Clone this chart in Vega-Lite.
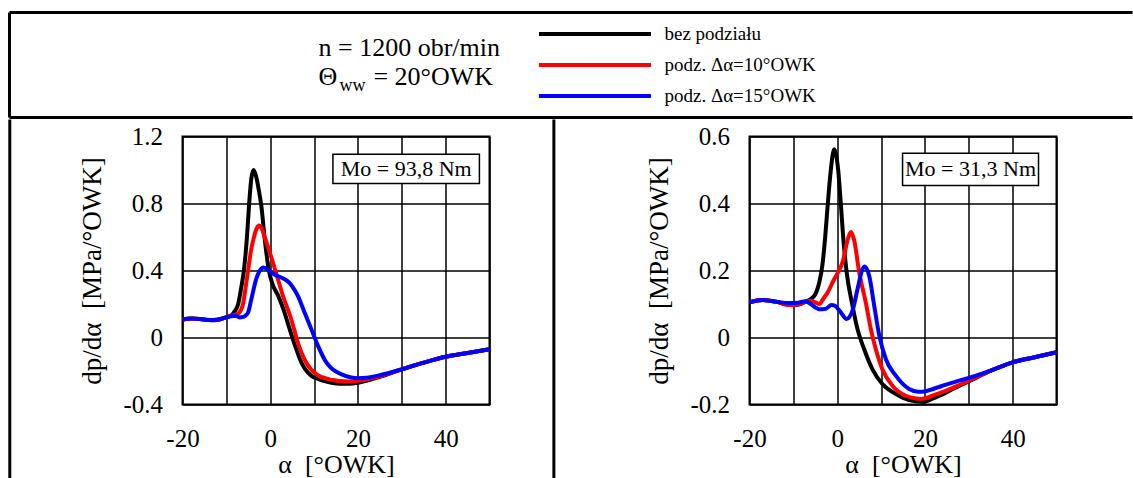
{
  "$schema": "https://vega.github.io/schema/vega-lite/v6.json",
  "padding": {"left": 6.5, "top": 10.5, "right": 0, "bottom": 0},
  "spacing": -3,
  "background": "white",
  "config": {
    "font": "Liberation Serif",
    "view": {"stroke": null},
    "axis": {
      "labelFont": "Liberation Serif", "labelFontSize": 25, "labelColor": "black",
      "titleFont": "Liberation Serif", "titleFontSize": 26, "titleFontWeight": "normal", "titleColor": "black",
      "grid": true, "gridColor": "black", "gridOpacity": 1, "gridWidth": 1.5,
      "domain": false, "ticks": false, "labelFlush": false, "labelOverlap": false
    },
    "axisX": {"labelPadding": 22, "titlePadding": 0},
    "axisY": {"labelPadding": 20, "titlePadding": 16, "titleFontSize": 27},
    "legend": {
      "labelFont": "Liberation Serif", "labelFontSize": 19, "labelColor": "black",
      "symbolStrokeWidth": 4, "rowPadding": 11, "padding": 0, "offset": 0
    }
  },
  "datasets": {
    "one": [{}],
    "p1": [
      {"s": "bez podziału", "a": -20, "v": 0.108}, {"s": "bez podziału", "a": -18, "v": 0.113}, {"s": "bez podziału", "a": -16, "v": 0.11}, {"s": "bez podziału", "a": -14, "v": 0.104}, {"s": "bez podziału", "a": -13, "v": 0.103}, {"s": "bez podziału", "a": -12, "v": 0.106}, {"s": "bez podziału", "a": -10, "v": 0.122}, {"s": "bez podziału", "a": -9, "v": 0.13}, {"s": "bez podziału", "a": -8.3, "v": 0.149}, {"s": "bez podziału", "a": -7.3, "v": 0.2}, {"s": "bez podziału", "a": -6.6, "v": 0.3}, {"s": "bez podziału", "a": -6, "v": 0.4}, {"s": "bez podziału", "a": -5.3, "v": 0.6}, {"s": "bez podziału", "a": -4.8, "v": 0.8}, {"s": "bez podziału", "a": -4.3, "v": 0.95}, {"s": "bez podziału", "a": -3.8, "v": 1.0}, {"s": "bez podziału", "a": -3.2, "v": 0.96}, {"s": "bez podziału", "a": -2.6, "v": 0.88}, {"s": "bez podziału", "a": -2, "v": 0.78}, {"s": "bez podziału", "a": -1.3, "v": 0.6}, {"s": "bez podziału", "a": -0.3, "v": 0.4}, {"s": "bez podziału", "a": 0.5, "v": 0.32}, {"s": "bez podziału", "a": 1.8, "v": 0.25}, {"s": "bez podziału", "a": 3, "v": 0.17}, {"s": "bez podziału", "a": 4.2, "v": 0.07}, {"s": "bez podziału", "a": 5.6, "v": -0.044}, {"s": "bez podziału", "a": 7.1, "v": -0.149}, {"s": "bez podziału", "a": 8, "v": -0.19}, {"s": "bez podziału", "a": 9.4, "v": -0.229}, {"s": "bez podziału", "a": 11, "v": -0.248}, {"s": "bez podziału", "a": 12.4, "v": -0.26}, {"s": "bez podziału", "a": 14, "v": -0.27}, {"s": "bez podziału", "a": 16, "v": -0.276}, {"s": "bez podziału", "a": 18, "v": -0.276}, {"s": "bez podziału", "a": 20, "v": -0.27}, {"s": "bez podziału", "a": 22, "v": -0.258}, {"s": "bez podziału", "a": 25, "v": -0.235}, {"s": "bez podziału", "a": 30, "v": -0.19}, {"s": "bez podziału", "a": 35, "v": -0.15}, {"s": "bez podziału", "a": 40, "v": -0.115}, {"s": "bez podziału", "a": 45, "v": -0.093}, {"s": "bez podziału", "a": 50, "v": -0.07},
      {"s": "podz. Δα=10°OWK", "a": -20, "v": 0.108}, {"s": "podz. Δα=10°OWK", "a": -18, "v": 0.113}, {"s": "podz. Δα=10°OWK", "a": -16, "v": 0.11}, {"s": "podz. Δα=10°OWK", "a": -14, "v": 0.104}, {"s": "podz. Δα=10°OWK", "a": -12, "v": 0.106}, {"s": "podz. Δα=10°OWK", "a": -10, "v": 0.122}, {"s": "podz. Δα=10°OWK", "a": -9, "v": 0.13}, {"s": "podz. Δα=10°OWK", "a": -8, "v": 0.135}, {"s": "podz. Δα=10°OWK", "a": -7.2, "v": 0.145}, {"s": "podz. Δα=10°OWK", "a": -6.2, "v": 0.2}, {"s": "podz. Δα=10°OWK", "a": -5.6, "v": 0.3}, {"s": "podz. Δα=10°OWK", "a": -5.05, "v": 0.4}, {"s": "podz. Δα=10°OWK", "a": -4.3, "v": 0.53}, {"s": "podz. Δα=10°OWK", "a": -3.7, "v": 0.6}, {"s": "podz. Δα=10°OWK", "a": -3.1, "v": 0.65}, {"s": "podz. Δα=10°OWK", "a": -2.5, "v": 0.668}, {"s": "podz. Δα=10°OWK", "a": -2, "v": 0.655}, {"s": "podz. Δα=10°OWK", "a": -1.27, "v": 0.6}, {"s": "podz. Δα=10°OWK", "a": 0, "v": 0.5}, {"s": "podz. Δα=10°OWK", "a": 1.17, "v": 0.4}, {"s": "podz. Δα=10°OWK", "a": 2.9, "v": 0.249}, {"s": "podz. Δα=10°OWK", "a": 4.8, "v": 0.109}, {"s": "podz. Δα=10°OWK", "a": 6.3, "v": -0.03}, {"s": "podz. Δα=10°OWK", "a": 8.2, "v": -0.149}, {"s": "podz. Δα=10°OWK", "a": 10.5, "v": -0.219}, {"s": "podz. Δα=10°OWK", "a": 13.9, "v": -0.252}, {"s": "podz. Δα=10°OWK", "a": 17.7, "v": -0.263}, {"s": "podz. Δα=10°OWK", "a": 20, "v": -0.259}, {"s": "podz. Δα=10°OWK", "a": 22, "v": -0.25}, {"s": "podz. Δα=10°OWK", "a": 25, "v": -0.232}, {"s": "podz. Δα=10°OWK", "a": 30, "v": -0.189}, {"s": "podz. Δα=10°OWK", "a": 35, "v": -0.15}, {"s": "podz. Δα=10°OWK", "a": 40, "v": -0.115}, {"s": "podz. Δα=10°OWK", "a": 45, "v": -0.093}, {"s": "podz. Δα=10°OWK", "a": 50, "v": -0.07},
      {"s": "podz. Δα=15°OWK", "a": -20, "v": 0.108}, {"s": "podz. Δα=15°OWK", "a": -18, "v": 0.113}, {"s": "podz. Δα=15°OWK", "a": -16, "v": 0.11}, {"s": "podz. Δα=15°OWK", "a": -14, "v": 0.104}, {"s": "podz. Δα=15°OWK", "a": -12, "v": 0.106}, {"s": "podz. Δα=15°OWK", "a": -10, "v": 0.12}, {"s": "podz. Δα=15°OWK", "a": -8.5, "v": 0.128}, {"s": "podz. Δα=15°OWK", "a": -7.8, "v": 0.129}, {"s": "podz. Δα=15°OWK", "a": -7, "v": 0.12}, {"s": "podz. Δα=15°OWK", "a": -6.2, "v": 0.123}, {"s": "podz. Δα=15°OWK", "a": -5.6, "v": 0.132}, {"s": "podz. Δα=15°OWK", "a": -5.05, "v": 0.149}, {"s": "podz. Δα=15°OWK", "a": -4.3, "v": 0.229}, {"s": "podz. Δα=15°OWK", "a": -3.2, "v": 0.348}, {"s": "podz. Δα=15°OWK", "a": -2.4, "v": 0.398}, {"s": "podz. Δα=15°OWK", "a": -1.5, "v": 0.418}, {"s": "podz. Δα=15°OWK", "a": -0.6, "v": 0.405}, {"s": "podz. Δα=15°OWK", "a": 0.26, "v": 0.388}, {"s": "podz. Δα=15°OWK", "a": 1.3, "v": 0.372}, {"s": "podz. Δα=15°OWK", "a": 2.5, "v": 0.358}, {"s": "podz. Δα=15°OWK", "a": 3.5, "v": 0.345}, {"s": "podz. Δα=15°OWK", "a": 4.4, "v": 0.326}, {"s": "podz. Δα=15°OWK", "a": 5.4, "v": 0.29}, {"s": "podz. Δα=15°OWK", "a": 6.3, "v": 0.249}, {"s": "podz. Δα=15°OWK", "a": 7.84, "v": 0.149}, {"s": "podz. Δα=15°OWK", "a": 9.37, "v": 0.05}, {"s": "podz. Δα=15°OWK", "a": 10.9, "v": -0.05}, {"s": "podz. Δα=15°OWK", "a": 12.8, "v": -0.149}, {"s": "podz. Δα=15°OWK", "a": 14, "v": -0.185}, {"s": "podz. Δα=15°OWK", "a": 15.4, "v": -0.209}, {"s": "podz. Δα=15°OWK", "a": 17, "v": -0.228}, {"s": "podz. Δα=15°OWK", "a": 18.5, "v": -0.239}, {"s": "podz. Δα=15°OWK", "a": 20, "v": -0.243}, {"s": "podz. Δα=15°OWK", "a": 22, "v": -0.24}, {"s": "podz. Δα=15°OWK", "a": 25, "v": -0.225}, {"s": "podz. Δα=15°OWK", "a": 30, "v": -0.19}, {"s": "podz. Δα=15°OWK", "a": 35, "v": -0.15}, {"s": "podz. Δα=15°OWK", "a": 40, "v": -0.115}, {"s": "podz. Δα=15°OWK", "a": 45, "v": -0.093}, {"s": "podz. Δα=15°OWK", "a": 50, "v": -0.07}
    ],
    "p2": [
      {"s": "bez podziału", "a": -20, "v": 0.105}, {"s": "bez podziału", "a": -17, "v": 0.112}, {"s": "bez podziału", "a": -14, "v": 0.107}, {"s": "bez podziału", "a": -11, "v": 0.097}, {"s": "bez podziału", "a": -9, "v": 0.098}, {"s": "bez podziału", "a": -7.2, "v": 0.107}, {"s": "bez podziału", "a": -5.25, "v": 0.124}, {"s": "bez podziału", "a": -4.1, "v": 0.164}, {"s": "bez podziału", "a": -3.4, "v": 0.214}, {"s": "bez podziału", "a": -2.74, "v": 0.3}, {"s": "bez podziału", "a": -2.14, "v": 0.4}, {"s": "bez podziału", "a": -1.46, "v": 0.5}, {"s": "bez podziału", "a": -1.0, "v": 0.548}, {"s": "bez podziału", "a": -0.7, "v": 0.562}, {"s": "bez podziału", "a": -0.3, "v": 0.548}, {"s": "bez podziału", "a": 0.22, "v": 0.5}, {"s": "bez podziału", "a": 0.82, "v": 0.4}, {"s": "bez podziału", "a": 1.36, "v": 0.3}, {"s": "bez podziału", "a": 2.1, "v": 0.2}, {"s": "bez podziału", "a": 3.48, "v": 0.095}, {"s": "bez podziału", "a": 4.62, "v": 0.025}, {"s": "bez podziału", "a": 6.15, "v": -0.035}, {"s": "bez podziału", "a": 8.04, "v": -0.095}, {"s": "bez podziału", "a": 10.3, "v": -0.139}, {"s": "bez podziału", "a": 13.4, "v": -0.169}, {"s": "bez podziału", "a": 16.4, "v": -0.187}, {"s": "bez podziału", "a": 19.4, "v": -0.192}, {"s": "bez podziału", "a": 22, "v": -0.181}, {"s": "bez podziału", "a": 25, "v": -0.163}, {"s": "bez podziału", "a": 28, "v": -0.143}, {"s": "bez podziału", "a": 30, "v": -0.131}, {"s": "bez podziału", "a": 35, "v": -0.099}, {"s": "bez podziału", "a": 40, "v": -0.074}, {"s": "bez podziału", "a": 45, "v": -0.059}, {"s": "bez podziału", "a": 50, "v": -0.044},
      {"s": "podz. Δα=10°OWK", "a": -20, "v": 0.105}, {"s": "podz. Δα=10°OWK", "a": -17, "v": 0.112}, {"s": "podz. Δα=10°OWK", "a": -14, "v": 0.107}, {"s": "podz. Δα=10°OWK", "a": -11, "v": 0.097}, {"s": "podz. Δα=10°OWK", "a": -9, "v": 0.098}, {"s": "podz. Δα=10°OWK", "a": -7.2, "v": 0.107}, {"s": "podz. Δα=10°OWK", "a": -6, "v": 0.11}, {"s": "podz. Δα=10°OWK", "a": -5, "v": 0.105}, {"s": "podz. Δα=10°OWK", "a": -4.1, "v": 0.1}, {"s": "podz. Δα=10°OWK", "a": -3.2, "v": 0.115}, {"s": "podz. Δα=10°OWK", "a": -2.2, "v": 0.134}, {"s": "podz. Δα=10°OWK", "a": -0.7, "v": 0.174}, {"s": "podz. Δα=10°OWK", "a": 0.4, "v": 0.2}, {"s": "podz. Δα=10°OWK", "a": 1.3, "v": 0.228}, {"s": "podz. Δα=10°OWK", "a": 2.34, "v": 0.29}, {"s": "podz. Δα=10°OWK", "a": 3.1, "v": 0.315}, {"s": "podz. Δα=10°OWK", "a": 3.87, "v": 0.29}, {"s": "podz. Δα=10°OWK", "a": 5.0, "v": 0.195}, {"s": "podz. Δα=10°OWK", "a": 6.52, "v": 0.104}, {"s": "podz. Δα=10°OWK", "a": 7.66, "v": 0.025}, {"s": "podz. Δα=10°OWK", "a": 8.8, "v": -0.035}, {"s": "podz. Δα=10°OWK", "a": 10.3, "v": -0.095}, {"s": "podz. Δα=10°OWK", "a": 12.6, "v": -0.144}, {"s": "podz. Δα=10°OWK", "a": 15.6, "v": -0.174}, {"s": "podz. Δα=10°OWK", "a": 18, "v": -0.182}, {"s": "podz. Δα=10°OWK", "a": 19.4, "v": -0.183}, {"s": "podz. Δα=10°OWK", "a": 22, "v": -0.172}, {"s": "podz. Δα=10°OWK", "a": 25, "v": -0.158}, {"s": "podz. Δα=10°OWK", "a": 28, "v": -0.141}, {"s": "podz. Δα=10°OWK", "a": 30, "v": -0.129}, {"s": "podz. Δα=10°OWK", "a": 35, "v": -0.099}, {"s": "podz. Δα=10°OWK", "a": 40, "v": -0.074}, {"s": "podz. Δα=10°OWK", "a": 45, "v": -0.059}, {"s": "podz. Δα=10°OWK", "a": 50, "v": -0.044},
      {"s": "podz. Δα=15°OWK", "a": -20, "v": 0.105}, {"s": "podz. Δα=15°OWK", "a": -17, "v": 0.112}, {"s": "podz. Δα=15°OWK", "a": -14, "v": 0.107}, {"s": "podz. Δα=15°OWK", "a": -11, "v": 0.103}, {"s": "podz. Δα=15°OWK", "a": -9, "v": 0.104}, {"s": "podz. Δα=15°OWK", "a": -7.2, "v": 0.108}, {"s": "podz. Δα=15°OWK", "a": -6, "v": 0.1}, {"s": "podz. Δα=15°OWK", "a": -5, "v": 0.09}, {"s": "podz. Δα=15°OWK", "a": -4.1, "v": 0.084}, {"s": "podz. Δα=15°OWK", "a": -2.6, "v": 0.086}, {"s": "podz. Δα=15°OWK", "a": -1.3, "v": 0.097}, {"s": "podz. Δα=15°OWK", "a": -0.7, "v": 0.096}, {"s": "podz. Δα=15°OWK", "a": 0.82, "v": 0.075}, {"s": "podz. Δα=15°OWK", "a": 2.12, "v": 0.055}, {"s": "podz. Δα=15°OWK", "a": 3.48, "v": 0.08}, {"s": "podz. Δα=15°OWK", "a": 4.62, "v": 0.144}, {"s": "podz. Δα=15°OWK", "a": 5.76, "v": 0.204}, {"s": "podz. Δα=15°OWK", "a": 6.29, "v": 0.212}, {"s": "podz. Δα=15°OWK", "a": 7.29, "v": 0.184}, {"s": "podz. Δα=15°OWK", "a": 8.43, "v": 0.095}, {"s": "podz. Δα=15°OWK", "a": 9.57, "v": 0.007}, {"s": "podz. Δα=15°OWK", "a": 11.1, "v": -0.065}, {"s": "podz. Δα=15°OWK", "a": 13.36, "v": -0.114}, {"s": "podz. Δα=15°OWK", "a": 16.4, "v": -0.154}, {"s": "podz. Δα=15°OWK", "a": 18.5, "v": -0.162}, {"s": "podz. Δα=15°OWK", "a": 20, "v": -0.161}, {"s": "podz. Δα=15°OWK", "a": 22, "v": -0.153}, {"s": "podz. Δα=15°OWK", "a": 25, "v": -0.14}, {"s": "podz. Δα=15°OWK", "a": 28, "v": -0.128}, {"s": "podz. Δα=15°OWK", "a": 30, "v": -0.121}, {"s": "podz. Δα=15°OWK", "a": 35, "v": -0.099}, {"s": "podz. Δα=15°OWK", "a": 40, "v": -0.074}, {"s": "podz. Δα=15°OWK", "a": 45, "v": -0.059}, {"s": "podz. Δα=15°OWK", "a": 50, "v": -0.044}
    ]
  },
  "vconcat": [
    {
      "width": 950, "height": 105,
      "data": {"name": "one"},
      "layer": [
        {"mark": {"type": "rule", "strokeWidth": 3, "color": "black"},
         "encoding": {"x": {"datum": -18.21, "type": "quantitative", "scale": {"domain": [0, 100], "nice": false, "zero": false}, "axis": null},
                      "x2": {"datum": 100},
                      "y": {"datum": 100, "type": "quantitative", "scale": {"domain": [0, 100], "nice": false, "zero": false}, "axis": null}}},
        {"mark": {"type": "rule", "strokeWidth": 3, "color": "black"},
         "encoding": {"x": {"datum": -18.21, "type": "quantitative"}, "x2": {"datum": 100}, "y": {"datum": 0, "type": "quantitative"}}},
        {"mark": {"type": "rule", "strokeWidth": 3, "color": "black"},
         "encoding": {"x": {"datum": -18.21, "type": "quantitative"}, "y": {"datum": 0, "type": "quantitative"}, "y2": {"datum": 100}}},
        {"mark": {"type": "text", "text": "n = 1200 obr/min", "font": "Liberation Serif", "fontSize": 26, "align": "left", "baseline": "alphabetic", "color": "black"},
         "encoding": {"x": {"datum": 14.32, "type": "quantitative"}, "y": {"datum": 59, "type": "quantitative"}}},
        {"mark": {"type": "text", "text": "Θ", "font": "Liberation Serif", "fontSize": 26, "align": "left", "baseline": "alphabetic", "color": "black"},
         "encoding": {"x": {"datum": 14.32, "type": "quantitative"}, "y": {"datum": 30.5, "type": "quantitative"}}},
        {"mark": {"type": "text", "text": "ww", "font": "Liberation Serif", "fontSize": 18, "align": "left", "baseline": "alphabetic", "color": "black"},
         "encoding": {"x": {"datum": 16.53, "type": "quantitative"}, "y": {"datum": 24.8, "type": "quantitative"}}},
        {"mark": {"type": "text", "text": "= 20°OWK", "font": "Liberation Serif", "fontSize": 26, "align": "left", "baseline": "alphabetic", "color": "black"},
         "encoding": {"x": {"datum": 20.1, "type": "quantitative"}, "y": {"datum": 30.5, "type": "quantitative"}}}
      ]
    },
    {
      "hconcat": [
        {
          "width": 307, "height": 268,
          "view": {"stroke": "black", "strokeWidth": 2},
          "layer": [
            {"data": {"name": "p1"},
             "mark": {"type": "line", "strokeWidth": 4, "interpolate": "monotone"},
             "encoding": {
               "x": {"field": "a", "type": "quantitative", "title": "α\u00a0\u00a0[°OWK]",
                     "scale": {"domain": [-20, 50], "nice": false, "zero": false},
                     "axis": {"values": [-20, -10, 0, 10, 20, 30, 40, 50], "labelExpr": "datum.value % 20 === 0 ? '' + datum.value : ''"}},
               "y": {"field": "v", "type": "quantitative", "title": "dp/dα\u00a0\u00a0[MPa/°OWK]\u00a0\u00a0",
                     "scale": {"domain": [-0.4, 1.2], "nice": false, "zero": false},
                     "axis": {"values": [-0.4, -0.2, 0, 0.2, 0.4, 0.6, 0.8, 1, 1.2], "labelExpr": "round(datum.value * 10) % 4 === 0 ? '' + datum.value : ''"}},
               "color": {"field": "s", "type": "nominal",
                         "scale": {"domain": ["bez podziału", "podz. Δα=10°OWK", "podz. Δα=15°OWK"], "range": ["#000000", "#ff0000", "#0000ff"]},
                         "legend": {"orient": "none", "legendX": 403, "legendY": 12, "title": null, "symbolType": "M-8,0H8", "symbolSize": 196, "labelOffset": 60}}
             }},
            {"data": {"name": "one"},
             "mark": {"type": "rect", "fill": "white", "stroke": "black", "strokeWidth": 1.5},
             "encoding": {"x": {"datum": 14.3, "type": "quantitative"}, "x2": {"datum": 47.7}, "y": {"datum": 1.094, "type": "quantitative"}, "y2": {"datum": 0.919}}},
            {"data": {"name": "one"},
             "mark": {"type": "text", "text": "Mo = 93,8 Nm", "font": "Liberation Serif", "fontSize": 22, "align": "center", "baseline": "middle", "color": "black"},
             "encoding": {"x": {"datum": 31, "type": "quantitative"}, "y": {"datum": 1.007, "type": "quantitative"}}},
            {"data": {"name": "one"},
             "mark": {"type": "rule", "strokeWidth": 3, "color": "black"},
             "encoding": {"x": {"datum": -59.38, "type": "quantitative"}, "y": {"datum": 1.3015, "type": "quantitative"}, "y2": {"datum": -0.845}}},
            {"data": {"name": "one"},
             "mark": {"type": "rule", "strokeWidth": 3, "color": "black"},
             "encoding": {"x": {"datum": 64.68, "type": "quantitative"}, "y": {"datum": 1.3015, "type": "quantitative"}, "y2": {"datum": -0.845}}}
          ]
        },
        {
          "width": 307, "height": 268,
          "view": {"stroke": "black", "strokeWidth": 2},
          "layer": [
            {"data": {"name": "p2"},
             "mark": {"type": "line", "strokeWidth": 4, "interpolate": "monotone"},
             "encoding": {
               "x": {"field": "a", "type": "quantitative", "title": "α\u00a0\u00a0[°OWK]",
                     "scale": {"domain": [-20, 50], "nice": false, "zero": false},
                     "axis": {"values": [-20, -10, 0, 10, 20, 30, 40, 50], "labelExpr": "datum.value % 20 === 0 ? '' + datum.value : ''"}},
               "y": {"field": "v", "type": "quantitative", "title": "dp/dα\u00a0\u00a0[MPa/°OWK]\u00a0\u00a0",
                     "scale": {"domain": [-0.2, 0.6], "nice": false, "zero": false},
                     "axis": {"values": [-0.2, -0.1, 0, 0.1, 0.2, 0.3, 0.4, 0.5, 0.6], "labelExpr": "round(datum.value * 10) % 2 === 0 ? '' + datum.value : ''"}},
               "color": {"field": "s", "type": "nominal",
                         "scale": {"domain": ["bez podziału", "podz. Δα=10°OWK", "podz. Δα=15°OWK"], "range": ["#000000", "#ff0000", "#0000ff"]}}
             }},
            {"data": {"name": "one"},
             "mark": {"type": "rect", "fill": "white", "stroke": "black", "strokeWidth": 1.5},
             "encoding": {"x": {"datum": 14.9, "type": "quantitative"}, "x2": {"datum": 45.9}, "y": {"datum": 0.55, "type": "quantitative"}, "y2": {"datum": 0.454}}},
            {"data": {"name": "one"},
             "mark": {"type": "text", "text": "Mo = 31,3 Nm", "font": "Liberation Serif", "fontSize": 22, "align": "center", "baseline": "middle", "color": "black"},
             "encoding": {"x": {"datum": 30.4, "type": "quantitative"}, "y": {"datum": 0.502, "type": "quantitative"}}}
          ]
        }
      ],
      "spacing": 88
    }
  ]
}
